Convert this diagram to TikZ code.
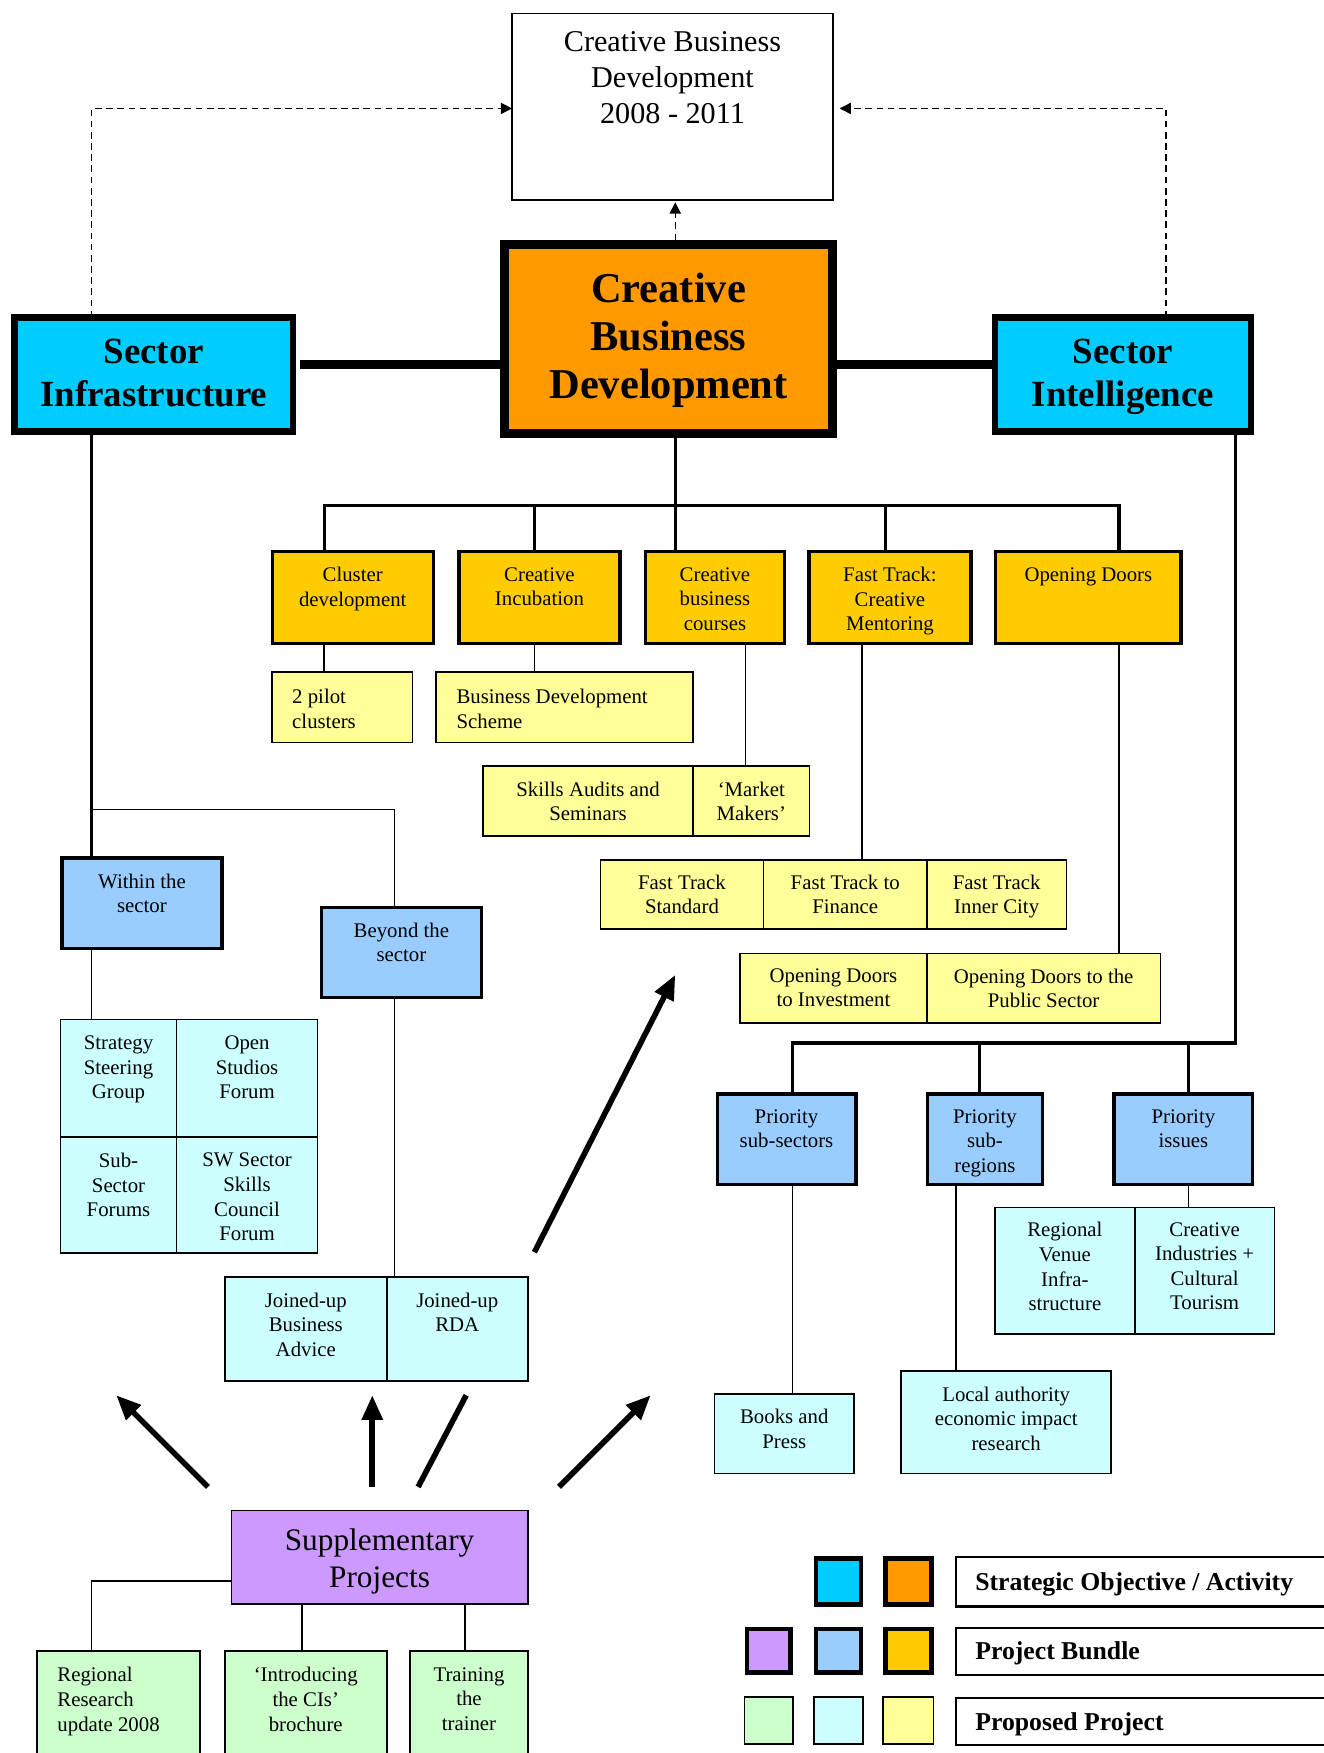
\documentclass[tikz,border=0pt]{standalone}
\usepackage{fontspec}
\setmainfont{Liberation Serif}
\usetikzlibrary{arrows.meta}
\definecolor{cOrange}{HTML}{FF9900}
\definecolor{cCyan}{HTML}{00CCFF}
\definecolor{cGold}{HTML}{FFCC00}
\definecolor{cLYellow}{HTML}{FFFF99}
\definecolor{cLBlue}{HTML}{99CCFF}
\definecolor{cLCyan}{HTML}{CCFFFF}
\definecolor{cPurple}{HTML}{CC99FF}
\definecolor{cLGreen}{HTML}{CCFFCC}
\newcommand\bx[9][]{%
  \pgfmathsetmacro\bxcx{(#3+#5)/2}%
  \pgfmathsetmacro\bxcy{(#4+#6)/2}%
  \pgfmathsetmacro\bxw{(#5-#3)/2}%
  \pgfmathsetmacro\bxh{(#6-#4)/2}%
  \node[#7, minimum width=\bxw pt, minimum height=\bxh pt] (#2) at (\bxcx,\bxcy) {};%
  \node[txt, #1] (#2t) at (\bxcx,#8) {#9};%
}
\begin{document}
\begin{tikzpicture}[x=0.5pt,y=-0.5pt,
  fr/.style={draw, rectangle, inner sep=0pt, outer sep=0pt},
  whitebox/.style={fr, line width=0.8pt, fill=white},
  mainbox/.style={fr, line width=4pt, fill=cOrange},
  stratbox/.style={fr, line width=3pt, fill=cCyan},
  goldbox/.style={fr, line width=1.5pt, fill=cGold},
  bluebox/.style={fr, line width=1.5pt, fill=cLBlue},
  yelbox/.style={fr, line width=0.75pt, fill=cLYellow},
  cyanbox/.style={fr, line width=0.75pt, fill=cLCyan},
  purpbox/.style={fr, line width=0.75pt, fill=cPurple},
  greenbox/.style={fr, line width=0.75pt, fill=cLGreen},
  txt/.style={anchor=north, align=center, inner sep=0pt, font=\fontsize{9.3}{11}\selectfont},
  titletxt/.style={font=\fontsize{13.5}{16}\selectfont},
  maintxt/.style={font=\fontsize{19}{21.5}\selectfont\bfseries},
  strattxt/.style={font=\fontsize{16.5}{19}\selectfont\bfseries},
  supptxt/.style={font=\fontsize{14}{16.5}\selectfont},
  legtxt/.style={anchor=west, inner sep=0pt, font=\fontsize{11.5}{13}\selectfont\bfseries},
  dasharrow/.style={line width=0.6pt, dash pattern=on 3pt off 2pt, -{Triangle[length=5pt,width=5pt]}},
  heavy/.style={line width=4pt},
  bus/.style={line width=1.5pt},
  thinline/.style={line width=0.7pt},
  bigarrow/.style={line width=2.5pt, -{Triangle[length=11pt,width=9pt]}},
  bigline/.style={line width=2.5pt},
]
\useasboundingbox (0,0) rectangle (1184,1568);
\fill[white] (0,0) rectangle (1184,1568);

% top box
\bx[titletxt]{top}{458}{12}{745}{179}{whitebox}{28}{Creative Business\\Development\\2008 - 2011}
% main
\bx[maintxt]{main}{451}{219}{745}{388}{mainbox}{244}{Creative\\Business\\Development}
% strategic
\bx[strattxt]{sinf}{13}{284}{262}{386}{stratbox}{303}{Sector\\Infrastructure}
\bx[strattxt]{sint}{890}{284}{1119}{386}{stratbox}{303}{Sector\\Intelligence}

% gold boxes
\bx{cd}{243.5}{493.5}{387.5}{575.5}{goldbox}{507}{Cluster\\development}
\bx{ci}{410.5}{493.5}{554.5}{575.5}{goldbox}{507}{Creative\\Incubation}
\bx{cbc}{577.5}{493.5}{701.5}{575.5}{goldbox}{507}{Creative\\business\\courses}
\bx{ftm}{723.5}{493.5}{868.5}{575.5}{goldbox}{507}{Fast Track:\\Creative\\Mentoring}
\bx{od}{890.5}{493.5}{1056.5}{575.5}{goldbox}{507}{Opening Doors}

% yellow boxes
\bx[anchor=north west, align=left, xshift=-22.5pt]{pilot}{243}{601}{369}{664}{yelbox}{616}{2 pilot\\clusters}
\bx[anchor=north west, align=left, xshift=-48.5pt]{bds}{390}{601}{620}{664}{yelbox}{616}{Business Development\\Scheme}
\bx{sas}{432}{685}{620}{748}{yelbox}{699}{Skills Audits and\\Seminars}
\bx{mm}{620}{685}{724}{748}{yelbox}{699}{‘Market\\Makers’}
\bx{fts}{537}{769}{683}{831}{yelbox}{782}{Fast Track\\Standard}
\bx{ftf}{683}{769}{829}{831}{yelbox}{782}{Fast Track to\\Finance}
\bx{ftc}{829}{769}{954}{831}{yelbox}{782}{Fast Track\\Inner City}
\bx{odi}{662}{853}{829}{915}{yelbox}{866}{Opening Doors\\to Investment}
\bx{odp}{829}{853}{1038}{915}{yelbox}{866}{Opening Doors to the\\Public Sector}

% blue boxes
\bx{within}{55.5}{767.5}{198.5}{848.5}{bluebox}{781}{Within the\\sector}
\bx{beyond}{287.5}{811.5}{430.5}{892.5}{bluebox}{825}{Beyond the\\sector}
\bx{pss}{641.5}{978.5}{765.5}{1059.5}{bluebox}{992}{Priority\\sub-sectors}
\bx{psr}{829.5}{978.5}{932.5}{1059.5}{bluebox}{992}{Priority\\sub-\\regions}
\bx{pis}{996.5}{978.5}{1120.5}{1059.5}{bluebox}{992}{Priority\\issues}

% light cyan boxes
\bx{ssg}{54}{912}{158}{1017}{cyanbox}{926}{Strategy\\Steering\\Group}
\bx{osf}{158}{912}{284}{1017}{cyanbox}{926}{Open\\Studios\\Forum}
\bx{ssf}{54}{1017}{158}{1121}{cyanbox}{1031}{Sub-\\Sector\\Forums}
\bx{sws}{158}{1017}{284}{1121}{cyanbox}{1031}{SW Sector\\Skills\\Council\\Forum}
\bx{jba}{201}{1142}{346}{1235}{cyanbox}{1156}{Joined-up\\Business\\Advice}
\bx{rda}{346}{1142}{472}{1235}{cyanbox}{1156}{Joined-up\\RDA}
\bx{bap}{639}{1247}{764}{1318}{cyanbox}{1260}{Books and\\Press}
\bx{lae}{806}{1226}{994}{1318}{cyanbox}{1240}{Local authority\\economic impact\\research}
\bx{rvi}{890}{1080}{1015}{1193}{cyanbox}{1093}{Regional\\Venue\\Infra-\\structure}
\bx{cic}{1015}{1080}{1140}{1193}{cyanbox}{1093}{Creative\\Industries +\\Cultural\\Tourism}

% supplementary
\bx[supptxt]{supp}{207}{1351}{472}{1435}{purpbox}{1367}{Supplementary\\Projects}
\bx[anchor=north west, align=left, xshift=-27.5pt]{rru}{33}{1477}{179}{1580}{greenbox}{1491}{Regional\\Research\\update 2008}
\bx{icb}{201}{1477}{346}{1580}{greenbox}{1491}{‘Introducing\\the CIs’\\brochure}
\bx{ttt}{367}{1477}{472}{1580}{greenbox}{1491}{Training\\the\\trainer}

% legend swatches
\bx{sw1}{730}{1394}{770}{1435}{fr, line width=2pt, fill=cCyan}{1400}{}
\bx{sw2}{792}{1394}{833}{1435}{fr, line width=2pt, fill=cOrange}{1400}{}
\bx{sw3}{668}{1457}{707}{1496}{fr, line width=2pt, fill=cPurple}{1460}{}
\bx{sw4}{730}{1457}{770}{1496}{fr, line width=2pt, fill=cLBlue}{1460}{}
\bx{sw5}{792}{1457}{833}{1496}{fr, line width=2pt, fill=cGold}{1460}{}
\bx{sw6}{666}{1518}{709}{1560}{fr, line width=0.75pt, fill=cLGreen}{1520}{}
\bx{sw7}{728}{1518}{772}{1560}{fr, line width=0.75pt, fill=cLCyan}{1520}{}
\bx{sw8}{790}{1518}{835}{1560}{fr, line width=0.75pt, fill=cLYellow}{1520}{}
\bx{lg1}{855}{1393}{1200}{1437}{fr, line width=1pt}{1400}{}
\bx{lg2}{855}{1456}{1200}{1498}{fr, line width=1pt}{1460}{}
\bx{lg3}{855}{1519}{1200}{1561}{fr, line width=1pt}{1520}{}
\node[legtxt] (lt1) at (872,1417) {Strategic Objective / Activity};
\node[legtxt] (lt2) at (872,1479) {Project Bundle};
\node[legtxt] (lt3) at (872,1542) {Proposed Project};

% dashed arrows to top box
\coordinate (dL) at (82,97);
\coordinate (dR) at (1043,97);
\draw[dasharrow] (sinf.north -| dL) -- (dL) -- (top.west |- dL);
\draw[dasharrow] (sint.north -| dR) -- (dR) -- ([xshift=3pt]top.east |- dR);
\coordinate (dC) at (604,0);
\draw[dasharrow] ([yshift=2pt]main.north -| dC) -- ([yshift=-1pt]top.south -| dC);

% heavy connectors
\coordinate (hY) at (0,326);
\draw[heavy] ([xshift=3pt]sinf.east |- hY) -- (main.west |- hY);
\draw[heavy] ([xshift=2pt]main.east |- hY) -- (sint.west |- hY);

% bus to gold boxes
\coordinate (busM) at (604,452);
\coordinate (x290) at (290,0);
\coordinate (x478) at (478,0);
\coordinate (x792) at (792,0);
\coordinate (x1001) at (1001,0);
\draw[bus] (main.south -| busM) -- (busM);
\draw[bus] (cd.north -| x290) -- (busM -| x290) -- (busM -| x1001) -- (od.north -| x1001);
\draw[bus] (busM -| x478) -- (ci.north -| x478);
\draw[bus] (busM) -- (cbc.north -| busM);
\draw[bus] (busM -| x792) -- (ftm.north -| x792);

% gold to yellow
\coordinate (x667) at (667,0);
\coordinate (x771) at (771,0);
\draw[thinline] (cd.south -| x290) -- (pilot.north -| x290);
\draw[thinline] (ci.south -| x478) -- (bds.north -| x478);
\draw[thinline] (cbc.south -| x667) -- (mm.north -| x667);
\draw[thinline] (ftm.south -| x771) -- (ftf.north -| x771);
\draw[thinline] (od.south -| x1001) -- (odp.north -| x1001);

% left branch
\coordinate (jL) at (82,724);
\coordinate (x353) at (353,0);
\draw[bus] (sinf.south -| jL) -- (within.north -| jL);
\draw[thinline] (jL) -| (beyond.north -| x353);
\draw[thinline] (within.south -| jL) -- (ssg.north -| jL);
\draw[thinline] (beyond.south -| x353) -- (rda.north -| x353);

% right branch
\coordinate (busR) at (1105,933);
\coordinate (x709) at (709,0);
\coordinate (x876) at (876,0);
\coordinate (x1063) at (1063,0);
\coordinate (x855) at (855,0);
\draw[bus] (sint.south -| busR) -- (busR) -- (busR -| x709) -- (pss.north -| x709);
\draw[bus] (busR -| x876) -- (psr.north -| x876);
\draw[bus] (busR -| x1063) -- (pis.north -| x1063);
\draw[thinline] (pss.south -| x709) -- (bap.north -| x709);
\draw[thinline] (psr.south -| x855) -- (lae.north -| x855);
\draw[thinline] (pis.south -| x1063) -- (cic.north -| x1063);

% supplementary branch
\coordinate (sY) at (82,1414);
\coordinate (x270) at (270,0);
\coordinate (x416) at (416,0);
\draw[thinline] (supp.west |- sY) -- (sY) -- (rru.north -| sY);
\draw[thinline] (supp.south -| x270) -- (icb.north -| x270);
\draw[thinline] (supp.south -| x416) -- (ttt.north -| x416);

% big arrows
\coordinate (a1s) at (478,1120); \coordinate (a1e) at (604,872);
\coordinate (a2s) at (186,1330); \coordinate (a2e) at (104,1248);
\coordinate (a3s) at (333,1330); \coordinate (a3e) at (333,1248);
\coordinate (a4s) at (374,1330); \coordinate (a4e) at (417,1248);
\coordinate (a5s) at (500,1330); \coordinate (a5e) at (582,1248);
\draw[bigarrow] (a1s) -- (a1e);
\draw[bigarrow] (a2s) -- (a2e);
\draw[bigarrow] (a3s) -- (a3e);
\draw[bigline] (a4s) -- (a4e);
\draw[bigarrow] (a5s) -- (a5e);
\end{tikzpicture}
\end{document}
